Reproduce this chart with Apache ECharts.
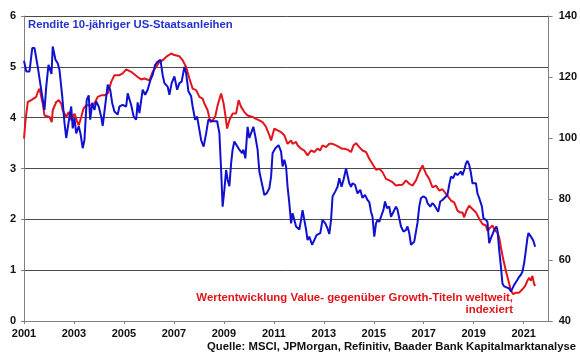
<!DOCTYPE html>
<html>
<head>
<meta charset="utf-8">
<script src="https://cdn.jsdelivr.net/npm/echarts@6/dist/echarts.min.js"></script>
<style>
html,body{margin:0;padding:0;background:#fff;}
#chart{width:580px;height:359px;}
</style>
</head>
<body>
<div id="chart"></div>
<script>
// x-axis tick labels (years)
var yearStart = 2001;
var yearEnd = 2022;
// 10-year US Treasury yield (left axis, %)
var yieldDates = [2001.0,2001.09,2001.22,2001.33,2001.42,2001.55,2001.73,2001.82,2001.89,2001.98,2002.06,2002.10,2002.15,2002.26,2002.35,2002.42,2002.53,2002.62,2002.69,2002.82,2002.89,2002.95,2003.02,2003.09,2003.19,2003.26,2003.35,2003.42,2003.51,2003.59,2003.65,2003.73,2003.82,2003.89,2003.99,2004.09,2004.15,2004.26,2004.35,2004.45,2004.53,2004.62,2004.75,2004.82,2004.95,2005.09,2005.15,2005.29,2005.39,2005.49,2005.55,2005.62,2005.75,2005.85,2005.95,2006.06,2006.15,2006.25,2006.35,2006.46,2006.55,2006.62,2006.75,2006.82,2006.91,2007.02,2007.13,2007.22,2007.31,2007.42,2007.49,2007.58,2007.69,2007.75,2007.85,2007.93,2008.02,2008.09,2008.19,2008.29,2008.38,2008.46,2008.55,2008.62,2008.73,2008.82,2008.89,2008.95,2009.02,2009.09,2009.15,2009.22,2009.29,2009.35,2009.42,2009.49,2009.62,2009.73,2009.78,2009.86,2009.95,2010.02,2010.09,2010.18,2010.26,2010.35,2010.42,2010.50,2010.55,2010.62,2010.71,2010.82,2010.89,2010.95,2011.06,2011.19,2011.29,2011.35,2011.42,2011.49,2011.55,2011.62,2011.69,2011.75,2011.82,2011.89,2012.02,2012.09,2012.15,2012.22,2012.29,2012.35,2012.42,2012.53,2012.62,2012.71,2012.79,2012.86,2012.95,2013.06,2013.15,2013.22,2013.29,2013.35,2013.46,2013.55,2013.62,2013.71,2013.79,2013.89,2013.95,2014.02,2014.09,2014.15,2014.25,2014.35,2014.46,2014.55,2014.65,2014.75,2014.82,2014.89,2014.95,2015.02,2015.09,2015.15,2015.22,2015.29,2015.39,2015.45,2015.53,2015.62,2015.69,2015.79,2015.89,2015.95,2016.02,2016.09,2016.19,2016.29,2016.35,2016.42,2016.49,2016.55,2016.62,2016.69,2016.75,2016.82,2016.89,2016.99,2017.09,2017.15,2017.26,2017.35,2017.42,2017.49,2017.58,2017.66,2017.75,2017.82,2017.95,2018.02,2018.09,2018.18,2018.26,2018.35,2018.42,2018.49,2018.55,2018.62,2018.69,2018.75,2018.82,2018.89,2018.95,2019.02,2019.09,2019.15,2019.22,2019.29,2019.33,2019.39,2019.49,2019.55,2019.62,2019.69,2019.75,2019.82,2019.91,2019.95,2020.02,2020.09,2020.15,2020.22,2020.29,2020.42,2020.49,2020.55,2020.62,2020.69,2020.75,2020.82,2020.89,2020.95,2021.02,2021.09,2021.15,2021.19,2021.29,2021.38,2021.42,2021.46];
var yieldValues = [5.12,4.91,4.91,5.37,5.37,5.0,4.42,4.15,4.61,5.04,5.04,4.86,5.4,5.14,5.07,4.94,4.42,3.9,3.6,4.02,4.22,3.79,3.99,3.69,3.83,3.69,3.4,3.56,4.35,4.44,3.96,4.29,4.15,4.32,4.22,4.02,3.84,4.28,4.65,4.55,4.29,4.12,4.06,4.22,4.25,4.22,4.48,4.25,4.02,3.96,4.3,4.09,4.55,4.45,4.55,4.74,4.84,5.04,5.1,5.14,4.84,4.68,4.61,4.45,4.68,4.81,4.55,4.68,4.71,5.0,4.87,4.52,4.42,4.22,3.96,4.02,3.76,3.56,3.43,3.69,3.96,3.93,3.93,3.96,3.93,3.7,2.97,2.25,2.58,2.97,2.78,2.65,3.1,3.37,3.53,3.5,3.37,3.3,3.37,3.2,3.82,3.6,3.6,3.82,3.63,3.37,2.94,2.91,2.64,2.48,2.51,2.61,2.84,3.3,3.4,3.46,3.33,3.04,3.17,3.04,2.64,2.32,1.92,2.12,2.09,1.86,1.8,1.99,2.18,1.99,1.8,1.59,1.66,1.5,1.59,1.69,1.66,1.73,1.99,1.92,1.82,1.71,1.99,2.45,2.55,2.64,2.81,2.64,2.78,3.0,2.97,2.71,2.64,2.71,2.68,2.51,2.58,2.42,2.48,2.38,2.34,2.15,2.05,1.66,1.92,1.99,1.95,2.05,2.19,2.35,2.22,2.25,2.05,2.15,2.25,2.19,2.02,1.86,1.76,1.79,1.86,1.73,1.5,1.48,1.56,1.59,1.93,2.25,2.42,2.45,2.42,2.32,2.25,2.32,2.28,2.28,2.15,2.35,2.38,2.38,2.48,2.68,2.84,2.81,2.91,2.87,2.84,2.94,2.87,2.97,3.1,3.15,3.07,2.91,2.71,2.68,2.71,2.51,2.42,2.42,2.25,2.02,1.99,1.95,1.53,1.63,1.66,1.79,1.86,1.79,1.4,1.07,0.74,0.68,0.68,0.64,0.58,0.58,0.71,0.68,0.81,0.87,0.91,0.97,1.14,1.4,1.63,1.73,1.66,1.59,1.56,1.46];
// Value vs Growth performance, indexed (right axis)
var valueDates = [2001.0,2001.06,2001.15,2001.29,2001.38,2001.49,2001.55,2001.62,2001.69,2001.75,2001.82,2001.89,2002.02,2002.11,2002.15,2002.29,2002.39,2002.49,2002.55,2002.69,2002.79,2002.89,2003.02,2003.11,2003.19,2003.29,2003.38,2003.49,2003.69,2003.82,2003.95,2004.09,2004.22,2004.35,2004.49,2004.62,2004.82,2004.95,2005.09,2005.29,2005.55,2005.69,2005.82,2006.02,2006.15,2006.29,2006.42,2006.55,2006.69,2006.89,2007.02,2007.22,2007.35,2007.49,2007.62,2007.75,2007.89,2008.02,2008.15,2008.22,2008.35,2008.46,2008.55,2008.65,2008.75,2008.89,2008.99,2009.05,2009.13,2009.22,2009.35,2009.49,2009.59,2009.69,2009.82,2009.95,2010.02,2010.15,2010.29,2010.42,2010.55,2010.69,2010.82,2010.89,2011.02,2011.15,2011.29,2011.42,2011.55,2011.69,2011.75,2011.89,2011.95,2012.09,2012.22,2012.35,2012.49,2012.62,2012.75,2012.85,2012.95,2013.09,2013.22,2013.35,2013.49,2013.62,2013.72,2013.82,2013.95,2014.09,2014.19,2014.29,2014.42,2014.55,2014.69,2014.82,2014.95,2015.09,2015.22,2015.35,2015.49,2015.62,2015.75,2015.89,2016.02,2016.15,2016.29,2016.42,2016.55,2016.69,2016.82,2016.95,2017.09,2017.22,2017.35,2017.49,2017.62,2017.75,2017.89,2017.99,2018.09,2018.22,2018.35,2018.45,2018.55,2018.62,2018.71,2018.82,2018.95,2019.09,2019.22,2019.35,2019.49,2019.55,2019.65,2019.75,2019.86,2019.95,2020.02,2020.09,2020.18,2020.29,2020.39,2020.49,2020.58,2020.69,2020.82,2020.95,2021.06,2021.15,2021.22,2021.29,2021.35,2021.42,2021.46];
var valueIndex = [99.8,105.8,111.8,112.4,112.9,113.5,115.1,116.2,115.7,111.3,107.4,106.9,106.9,105.2,109.1,111.8,112.4,111.3,109.1,106.9,108.5,105.8,108,105.8,104.1,106.9,109.6,110.7,110.7,111.3,113.5,114,114,114.6,118.4,120.6,120.6,121.2,122.5,121.7,120,119.2,119.5,118.9,121.7,123.3,125,125.5,126.6,127.7,127.2,126.8,125.5,123.3,119.5,116.2,115.7,113.5,112.9,111.3,109.1,105.2,105.8,106.9,110.7,114.6,111.3,108,103.1,105.8,108,108,112.4,110.2,108.5,107.4,108,106.9,106.3,105.8,105.2,103.6,100.9,99.2,103.1,102.5,101.9,100.9,98.1,99.2,98.1,98.7,97.6,96.5,95.9,94.3,95.9,95.4,96.5,95.9,97.6,97,98.1,98.1,97.6,97,96.5,96.5,96.2,95.4,97.6,98.3,97,95.9,95.4,93.2,91.5,89.6,89.9,88.8,86.6,86.1,85.5,84.4,84.6,84.7,86.1,85,84.4,86.1,88.8,91,88.3,86.6,83.8,84.4,82.8,83.2,81.7,80.6,79.5,78.9,76.2,75.6,75.6,74,76.2,77.8,76.7,75.6,73.5,71.8,71.3,69.6,70.5,71.3,69.6,69,67.4,64.1,60.3,56.4,53.2,49.9,48.8,49.3,49.3,50.4,51.5,53.2,54.2,53.2,54.8,52.1,51.5];

var titleYield = 'Rendite 10-jähriger US-Staatsanleihen';
var titleValue = 'Wertentwicklung Value- gegenüber Growth-Titeln weltweit,\nindexiert';
var sourceText = 'Quelle: MSCI, JPMorgan, Refinitiv, Baader Bank Kapitalmarktanalyse';

function pairs(d, v) {
  var out = [];
  for (var i = 0; i < d.length; i++) out.push([d[i] - yearStart, v[i]]);
  return out;
}

var FONT = '"Liberation Sans", Arial, sans-serif';
var chart = echarts.init(document.getElementById('chart'), null, {renderer: 'canvas'});
chart.setOption({
  animation: false,
  backgroundColor: '#ffffff',
  grid: {left: 24, right: 31, top: 16, bottom: 38, containLabel: false},
  xAxis: {
    type: 'value', min: 0, max: yearEnd - yearStart, interval: 2,
    axisLine: {show: true, lineStyle: {color: '#808080', width: 1}},
    axisTick: {show: true, length: 3, inside: false, lineStyle: {color: '#808080'}},
    axisLabel: {
      color: '#111', fontFamily: FONT, fontWeight: 'bold', fontSize: 11, margin: 7,
      showMaxLabel: false,
      formatter: function (v) { return String(v + yearStart); }
    },
    splitLine: {show: false}
  },
  yAxis: [{
    type: 'value', min: 0, max: 6, interval: 1, position: 'left',
    axisLine: {show: true, lineStyle: {color: '#808080', width: 1}},
    axisTick: {show: true, length: 3, lineStyle: {color: '#808080'}},
    axisLabel: {color: '#111', fontFamily: FONT, fontWeight: 'bold', fontSize: 11, margin: 8},
    splitLine: {show: true, lineStyle: {color: '#4a4a4a', width: 1}}
  }, {
    type: 'value', min: 40, max: 140, interval: 20, position: 'right',
    axisLine: {show: true, lineStyle: {color: '#808080', width: 1}},
    axisTick: {show: true, length: 4, lineStyle: {color: '#808080'}},
    axisLabel: {color: '#111', fontFamily: FONT, fontWeight: 'bold', fontSize: 11, margin: 10},
    splitLine: {show: false}
  }],
  series: [{
    name: 'Value/Growth', type: 'line', yAxisIndex: 1,
    data: pairs(valueDates, valueIndex),
    showSymbol: false, smooth: false,
    lineStyle: {color: '#e3141c', width: 2},
    itemStyle: {color: '#e3141c'}
  }, {
    name: 'Rendite', type: 'line', yAxisIndex: 0,
    data: pairs(yieldDates, yieldValues),
    showSymbol: false, smooth: false,
    lineStyle: {color: '#1010d0', width: 2},
    itemStyle: {color: '#1010d0'}
  }],
  graphic: [{
    type: 'text', left: 28, top: 19.5,
    style: {text: titleYield, fill: '#2233cc', font: 'bold 11.3px ' + FONT}
  }, {
    type: 'text', x: 513, y: 291.5,
    style: {text: titleValue, fill: '#e3141c', font: 'bold 11.4px ' + FONT, textAlign: 'right', lineHeight: 12.5}
  }, {
    type: 'text', x: 576, y: 341.5,
    style: {text: sourceText, fill: '#111', font: 'bold 11.3px ' + FONT, textAlign: 'right'}
  }]
});
</script>
</body>
</html>
